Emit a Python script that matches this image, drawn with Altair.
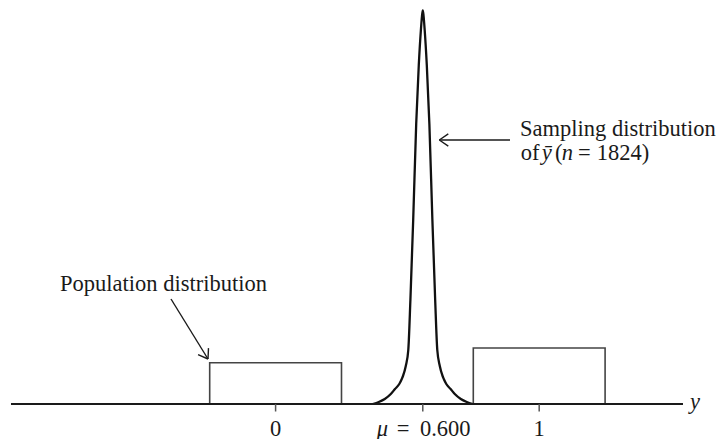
import altair as alt
import pandas as pd

# Population distribution of y (bars at 0 and 1, drawn heights)
pop_values = [0, 1]
pop_heights = [0.413, 0.56]
bar_half = 0.25

# Sampling distribution of y-bar: right half of the curve, drawn around its centre
curve_center = 0.5584
curve_height = [0.00, 0.02, 0.05, 0.10, 0.15, 0.20, 0.25, 0.28, 0.38, 0.54,
                1.04, 1.84, 2.80, 3.39, 3.74, 3.88, 3.936]
curve_offset = [0.1897, 0.1669, 0.1442, 0.1214, 0.1055, 0.0892, 0.0797, 0.0751,
                0.0645, 0.0550, 0.0470, 0.0364, 0.0250, 0.0152, 0.0072, 0.0030, 0.0]

# Axis ticks and their labels
tick_positions = [0, curve_center, 1]
axis_start, axis_end = -1.0038, 1.5455

FONT = "Liberation Serif"
FS = 22.5
INK = "#1a1a1a"

xs = alt.Scale(domain=[-1.0455, 1.6897], nice=False, zero=False)
ys = alt.Scale(domain=[-0.35, 4.04], nice=False, zero=False)

def X(f):
    return alt.X(f, type="quantitative", scale=xs, axis=None)

def Y(f):
    return alt.Y(f, type="quantitative", scale=ys, axis=None)

# Curve points, left side rising then right side falling
pts = []
for dx, h in zip(curve_offset, curve_height):
    pts.append((curve_center - dx, h))
for dx, h in list(zip(curve_offset, curve_height))[-2::-1]:
    pts.append((curve_center + dx, h))
curve_df = pd.DataFrame({"x": [p[0] for p in pts], "y": [p[1] for p in pts],
                         "i": list(range(len(pts)))})

curve = alt.Chart(curve_df).mark_line(
    color="#111", strokeWidth=2.3, interpolate="monotone"
).encode(x=X("x"), y=Y("y"), order="i:Q")

bars_df = pd.DataFrame({
    "x0": [v - bar_half for v in pop_values],
    "x1": [v + bar_half for v in pop_values],
    "y0": [0.0] * len(pop_values),
    "h": pop_heights,
})
bars = alt.Chart(bars_df).mark_rect(
    filled=False, stroke="#444", strokeWidth=1.6
).encode(x=X("x0"), x2="x1:Q", y=Y("y0"), y2="h:Q")

axis_df = pd.DataFrame({"a": [axis_start], "b": [axis_end], "y": [0.0]})
axis_line = alt.Chart(axis_df).mark_rule(color=INK, strokeWidth=2).encode(
    x=X("a"), x2="b:Q", y=Y("y"))

ticks_df = pd.DataFrame({"x": tick_positions, "y0": [0.0] * 3, "y1": [-0.075] * 3})
ticks = alt.Chart(ticks_df).mark_rule(color="#555", strokeWidth=1.5).encode(
    x=X("x"), y=Y("y0"), y2="y1:Q")

# Text pieces: (x, y, text, italic, align)
LBL_Y = -0.315
texts = [
    (0, LBL_Y, "0", False, "center"),
    (1, LBL_Y, "1", False, "center"),
    (0.3835, LBL_Y, "μ", True, "left"),
    (0.4594, LBL_Y, "=", False, "left"),
    (0.5478, LBL_Y, "0.600", False, "left"),
    (1.5721, -0.05, "y", True, "left"),
    (-0.4253, 1.13, "Population distribution", False, "center"),
    (0.9272, 2.68, "Sampling distribution", False, "left"),
    (0.9298, 2.44, "of", False, "left"),
    (1.0095, 2.44, "ȳ", True, "left"),
    (1.0600, 2.44, "(", False, "left"),
    (1.0854, 2.44, "n", True, "left"),
    (1.1472, 2.44, "=", False, "left"),
    (1.2181, 2.44, "1824)", False, "left"),
]
text_layers = []
for italic in (False, True):
    for align in ("left", "center"):
        rows = [t for t in texts if t[3] == italic and t[4] == align]
        if not rows:
            continue
        df = pd.DataFrame({"x": [r[0] for r in rows], "y": [r[1] for r in rows],
                           "t": [r[2] for r in rows]})
        text_layers.append(alt.Chart(df).mark_text(
            font=FONT, fontSize=FS, color=INK, align=align, baseline="alphabetic",
            fontStyle="italic" if italic else "normal"
        ).encode(x=X("x"), y=Y("y"), text="t:N"))

# Pointer arrows: shafts and open chevron heads
arrows_df = pd.DataFrame({
    "x0": [0.8893, -0.3968], "y0": [2.64, 1.05],
    "x1": [0.6210, -0.2564], "y1": [2.64, 0.45],
    "ang": [0.0, 238.3],
})
shafts = alt.Chart(arrows_df).mark_rule(color=INK, strokeWidth=1.4).encode(
    x=X("x0"), y=Y("y0"), x2="x1:Q", y2="y1:Q")
heads = alt.Chart(arrows_df).mark_point(
    shape="M0,0L1,-0.68M0,0L1,0.68", filled=False, size=324,
    stroke=INK, strokeWidth=1.4, opacity=1
).encode(x=X("x1"), y=Y("y1"), angle=alt.Angle("ang:Q", scale=None))

chart = alt.layer(bars, curve, axis_line, ticks, shafts, heads, *text_layers).properties(
    width=721, height=439,
    autosize=alt.AutoSizeParams(type="none"),
    padding={"left": 0, "right": 0, "top": 0, "bottom": 0},
    background="white",
).configure_view(stroke=None)

chart.save("out.html", embed_options={"renderer": "svg", "actions": False})
